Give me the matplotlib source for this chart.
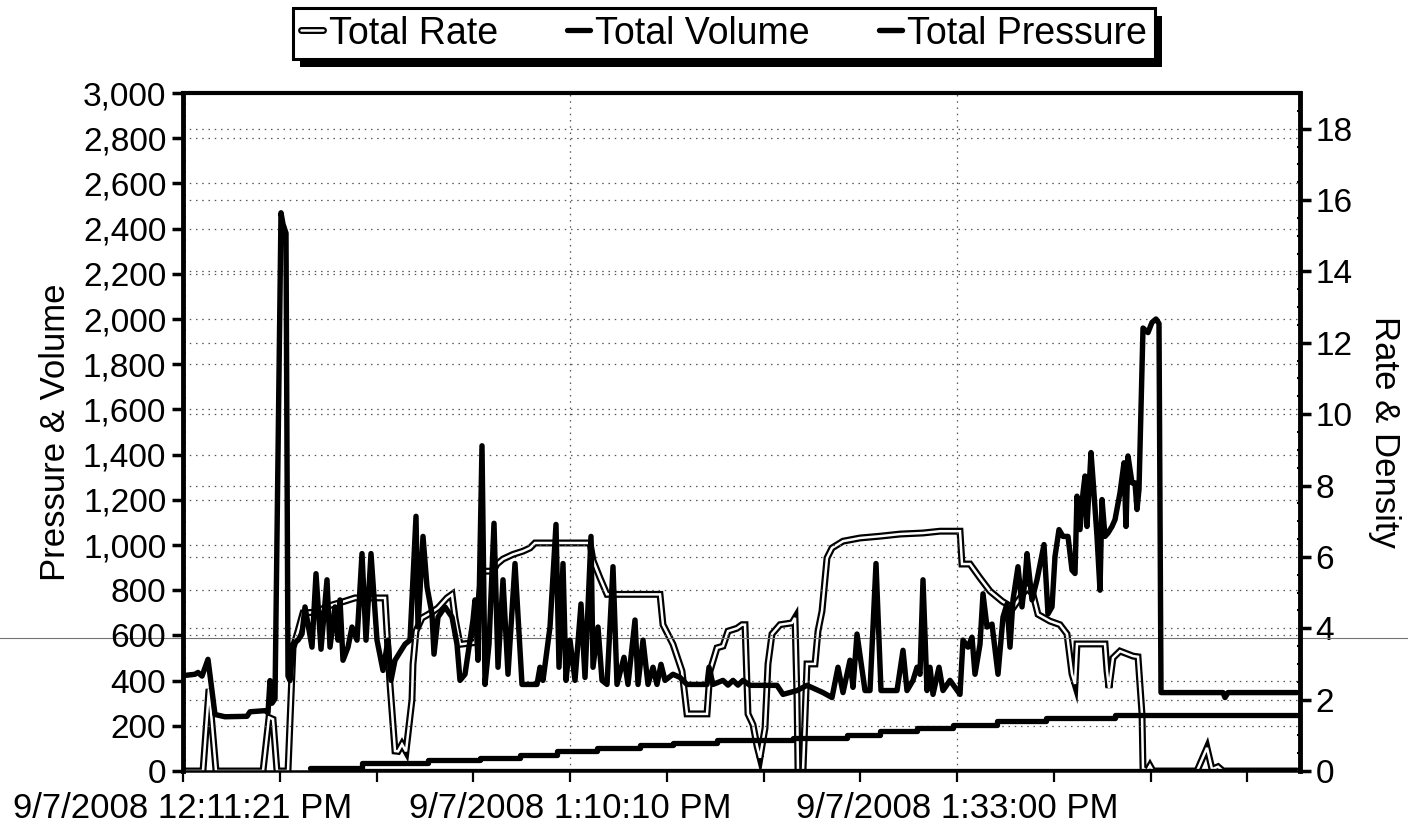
import numpy as np
import matplotlib
matplotlib.use("Agg")
import matplotlib.pyplot as plt
import matplotlib.patheffects as pe
from matplotlib.lines import Line2D
from matplotlib.patches import Rectangle
from matplotlib.ticker import MultipleLocator, FixedLocator, FuncFormatter

plt.rcParams['font.family'] = ['Liberation Sans', 'DejaVu Sans']

# record index along the job (x axis is sample based, not linear in time)
pres_x = [2, 12, 15, 19, 25, 32, 42, 64, 67, 82, 85, 87, 89, 92, 98, 100, 103, 105, 107, 110,
          115, 119, 122, 129, 133, 138, 144, 147, 152, 155, 157, 160, 165, 169, 174, 179, 183,
          188, 194, 200, 205, 208, 212, 222, 227, 233, 235, 240, 244, 249, 251, 255, 262, 269,
          274, 277, 282, 285, 290, 292, 295, 299, 302, 306, 311, 315, 320, 325, 332, 339, 354,
          357, 360, 367, 373, 376, 380, 383, 387, 392, 398, 402, 408, 410, 415, 419, 424, 430,
          434, 441, 445, 452, 455, 460, 465, 470, 474, 478, 482, 490, 497, 504, 524, 526, 530,
          540, 545, 550, 555, 560, 567, 577, 594, 600, 614, 624, 640, 649, 655, 660, 667, 670,
          674, 682, 687, 693, 698, 714, 720, 724, 730, 734, 737, 740, 744, 747, 750, 756, 760,
          767, 777, 780, 785, 789, 792, 797, 800, 804, 809, 815, 820, 824, 827, 830, 835, 839,
          842, 844, 849, 854, 861, 865, 869, 872, 876, 880, 885, 889, 892, 894, 897, 900, 902,
          904, 908, 910, 914, 917, 919, 922, 925, 929, 932, 937, 941, 943, 945, 949, 952, 954,
          956, 960, 965, 969, 973, 976, 978, 1040, 1042, 1045, 1114]
pres_y = [423, 428, 436, 420, 494, 250, 240, 242, 262, 267, 258, 400, 300, 320, 2470, 2420,
          2380, 420, 400, 561, 579, 606, 726, 548, 873, 539, 846, 548, 726, 579, 757, 490, 548,
          637, 579, 962, 579, 962, 579, 445, 579, 401, 490, 561, 579, 1127, 637, 1038, 815, 695,
          517, 681, 726, 681, 561, 401, 428, 517, 668, 757, 490, 1439, 383, 561, 1096, 459, 846,
          428, 918, 383, 383, 459, 401, 637, 1091, 459, 918, 401, 579, 401, 739, 414, 1038, 459,
          637, 401, 383, 904, 383, 503, 383, 668, 383, 579, 383, 459, 383, 472, 401, 428, 414,
          383, 383, 459, 383, 401, 380, 401, 380, 401, 379, 379, 379, 339, 356, 379, 347, 325,
          459, 347, 490, 370, 606, 356, 356, 918, 356, 356, 534, 356, 401, 459, 428, 846, 356,
          459, 339, 459, 356, 401, 339, 579, 548, 592, 428, 561, 784, 637, 650, 428, 681, 739,
          548, 757, 904, 726, 846, 962, 757, 846, 1002, 695, 726, 949, 1068, 1038, 1038, 889,
          874, 1216, 1068, 1231, 1305, 1082, 1409, 1290, 1038, 800, 1201, 1038, 1053, 1082,
          1112, 1231, 1364, 1082, 1394, 1275, 1275, 1157, 1246, 1960, 1940, 1985, 2000, 1980,
          347, 347, 325, 347, 347]

rate_x = [0, 20, 26, 33, 80, 86, 90, 94, 105, 110, 115, 120, 132, 145, 162, 172, 202, 207,
          212, 215, 219, 223, 229, 230, 233, 239, 249, 255, 264, 269, 272, 277, 292, 295, 299,
          310, 314, 320, 330, 340, 347, 352, 407, 410, 417, 424, 477, 480, 490, 499, 504, 524,
          527, 534, 540, 545, 554, 559, 562, 565, 570, 574, 577, 582, 585, 589, 597, 609, 612,
          614, 615, 620, 624, 632, 635, 639, 644, 649, 660, 677, 697, 717, 740, 757, 777, 779,
          787, 797, 807, 819, 830, 844, 850, 855, 867, 877, 884, 889, 892, 894, 922, 924, 926,
          930, 937, 950, 955, 959, 960, 964, 967, 970, 1014, 1024, 1029, 1035, 1040, 1114]
rate_y = [0, 0, 2.3, 0, 0, 1.5, 1.45, 0, 0, 3.45, 3.92, 4.43, 4.45, 4.62, 4.76, 4.85, 4.85,
          2.43, 0.56, 0.55, 0.75, 0.55, 2.0, 2.99, 3.92, 4.29, 4.45, 4.57, 4.85, 4.95, 4.29,
          3.55, 3.6, 4.5, 5.6, 5.6, 5.8, 5.94, 6.07, 6.16, 6.25, 6.39, 6.39, 5.9, 5.41, 4.95,
          4.95, 4.1, 3.55, 2.8, 1.6, 1.6, 2.8, 3.45, 3.5, 3.92, 4.0, 4.1, 4.1, 1.6, 1.3, 0.7,
          0.37, 1.2, 3.0, 3.84, 4.1, 4.15, 4.29, 2.05, 0, 0, 3.0, 3.0, 3.92, 4.48, 5.97, 6.25,
          6.44, 6.53, 6.58, 6.64, 6.67, 6.72, 6.72, 5.8, 5.8, 5.41, 5.04, 4.76, 4.57, 5.13,
          4.95, 4.39, 4.2, 4.1, 3.84, 2.72, 2.44, 3.56, 3.56, 2.8, 2.33, 3.17, 3.36, 3.22, 3.2,
          1.6, 0.08, 0, 0.15, 0, 0, 0.65, 0.05, 0.12, 0, 0]

vol_x = [127, 179, 245, 297, 337, 374, 414, 457, 490, 534, 610, 664, 697, 734, 770, 814, 863,
         932, 1114]
vol_y = [13, 36, 48, 58, 71, 89, 102, 114, 125, 138, 147, 160, 178, 191, 205, 223, 236, 249, 249]

dens_x = [179, 1114]
dens_y = [0, 0]

x_tick_pos = [0, 387, 774]
x_tick_labels = ['9/7/2008 12:11:21 PM', '9/7/2008 1:10:10 PM', '9/7/2008 1:33:00 PM']

W, H = 1408, 830
fig = plt.figure(figsize=(W / 100, H / 100), dpi=100)
ax = fig.add_axes([183 / W, 1 - 771 / H, (1300 - 183) / W, (771 - 93) / H])
ax2 = ax.twinx()
# rate axis sits underneath pressure / volume
ax2.set_zorder(0)
ax.set_zorder(1)
ax.patch.set_visible(False)

grid_kw = dict(color='#555555', linestyle=(0, (1.2, 3.8)), linewidth=0.9)

ax2.plot(rate_x, rate_y, color='white', lw=1.8, solid_joinstyle='miter',
         solid_capstyle='round',
         path_effects=[pe.Stroke(linewidth=5.0, foreground='black'), pe.Normal()],
         label='Total Rate')
ax2.plot(dens_x, dens_y, color='black', lw=3.8, solid_capstyle='butt')
ax.plot(vol_x, vol_y, color='black', lw=3.8, drawstyle='steps-post', solid_capstyle='round',
        label='Total Volume')
ax.plot(pres_x, pres_y, color='black', lw=3.9, solid_capstyle='round', label='Total Pressure')

ax.set_xlim(0, 1117)
ax.set_ylim(0, 3000)
ax2.set_ylim(0, 19)

ax.xaxis.set_major_locator(FixedLocator(x_tick_pos))
ax.set_xticklabels(x_tick_labels, fontsize=25)
ax.xaxis.set_minor_locator(MultipleLocator(96.75))
ax.tick_params(axis='x', which='both', direction='out', length=8, width=1.6, pad=7)
ax.xaxis.grid(True, which='major', **grid_kw)

ax.yaxis.set_major_locator(MultipleLocator(200))
ax.yaxis.set_minor_locator(MultipleLocator(50))
ax.yaxis.set_major_formatter(FuncFormatter(lambda v, p: f'{int(v):,}'))
ax.tick_params(axis='y', which='major', direction='out', length=8, width=2.5, pad=4,
               labelsize=24)
ax.tick_params(axis='y', which='minor', direction='in', length=2.5, width=1.5)
ax.yaxis.grid(True, which='major', **grid_kw)

ax2.set_yticks(np.arange(0, 19, 2))
ax2.yaxis.set_minor_locator(MultipleLocator(0.5))
ax2.tick_params(axis='y', which='major', direction='out', length=8, width=2.5, pad=3,
                labelsize=24)
ax2.tick_params(axis='y', which='minor', direction='in', length=2.5, width=1.5)
ax2.yaxis.grid(True, which='major', **grid_kw)

for s in ax2.spines.values():
    s.set_visible(False)
ax.spines['left'].set_linewidth(3.5)
ax.spines['right'].set_linewidth(3.5)
ax.spines['top'].set_linewidth(3.0)
ax.spines['bottom'].set_linewidth(1.8)

ax.set_ylabel('Pressure & Volume', fontsize=25)
ax.yaxis.set_label_coords((72 - 183) / 1117, 0.5)
ax2.set_ylabel('Rate & Density', fontsize=25, rotation=270, va='center')
ax2.yaxis.set_label_coords((1385 - 183) / 1117, 0.5)

# horizontal scanner streak across the page
fig.add_artist(Line2D([0, 1], [1 - 638 / H, 1 - 638 / H], transform=fig.transFigure,
                      color='0.45', lw=0.8, zorder=0.5))

h1, l1 = ax2.get_legend_handles_labels()
h2, l2 = ax.get_legend_handles_labels()
leg = fig.legend(h1 + h2, l1 + l2, loc='upper left', bbox_to_anchor=(293 / W, 1 - 8 / H),
                 ncol=3, fontsize=27, frameon=True, fancybox=False, shadow=False,
                 edgecolor='black', framealpha=1, borderpad=0.2, handlelength=0.6,
                 handletextpad=0.15, columnspacing=1.85, borderaxespad=0)
leg.get_frame().set_linewidth(2.2)
leg.set_zorder(5)

# heavy drop shadow under the legend box
fig.canvas.draw()
bb = leg.get_window_extent().transformed(fig.transFigure.inverted())
fig.add_artist(Rectangle((bb.x0 + 7 / W, bb.y0 - 8 / H), bb.width, bb.height,
                         transform=fig.transFigure, facecolor='black', edgecolor='none',
                         zorder=4))

fig.savefig('out.png', dpi=100)
